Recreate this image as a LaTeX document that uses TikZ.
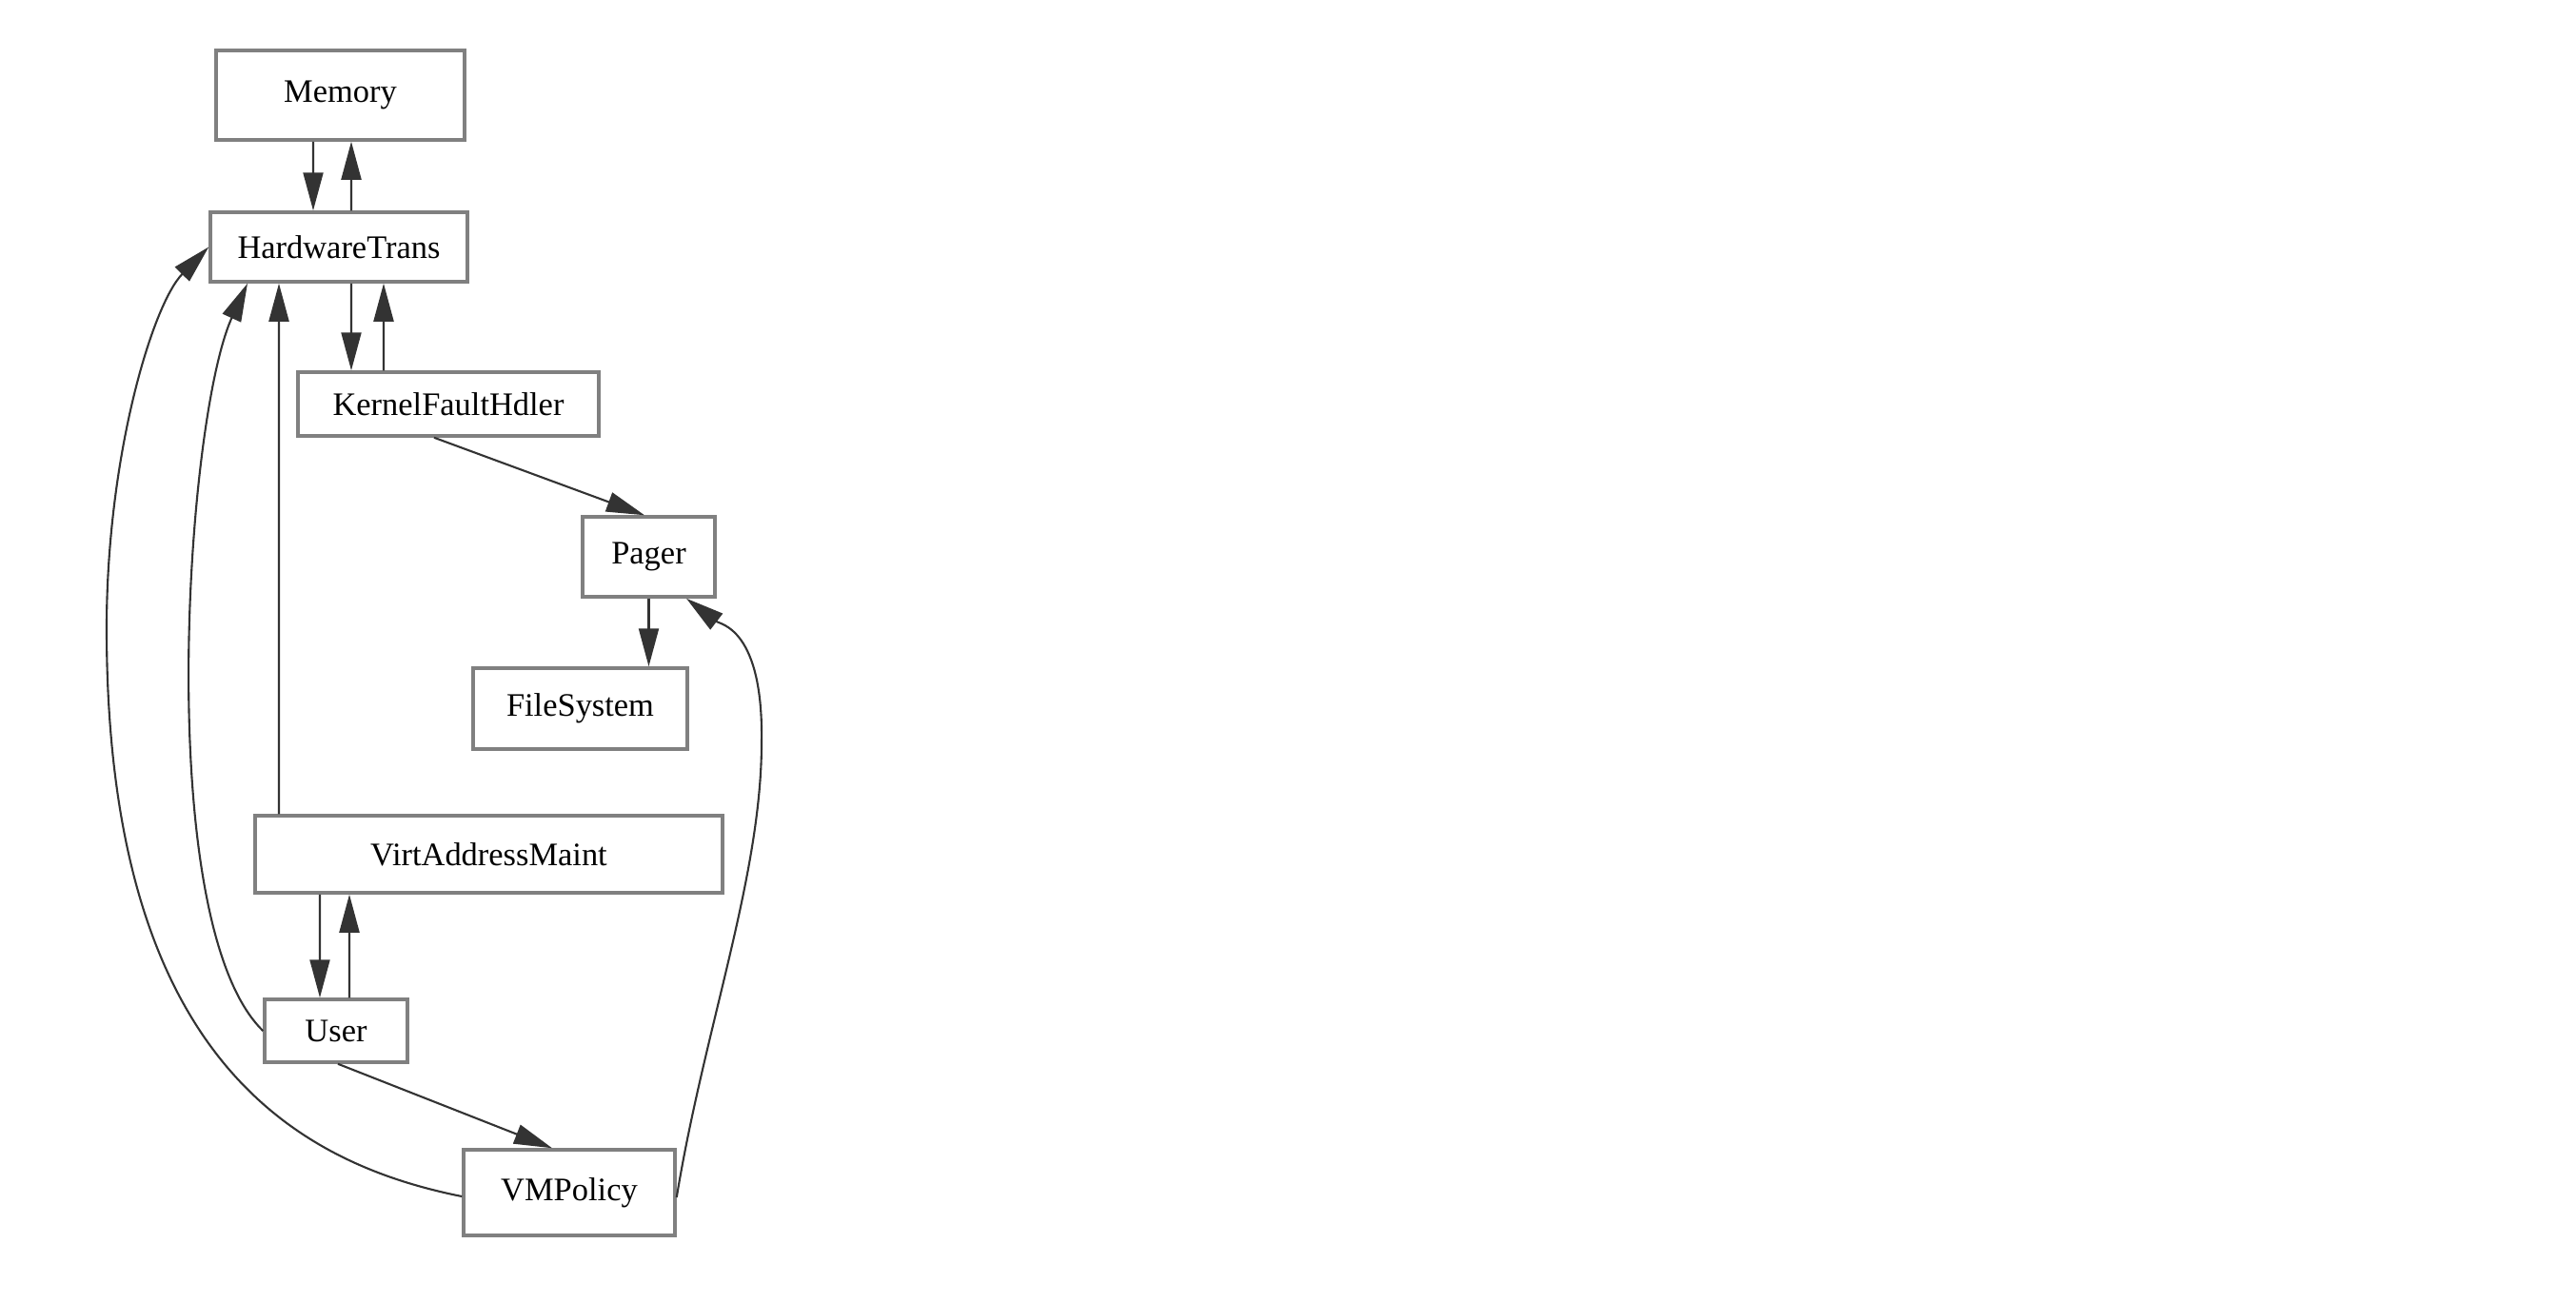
\documentclass[tikz,border=0pt]{standalone}
\usepackage{fontspec}
\setmainfont{Liberation Serif}
\usetikzlibrary{arrows.meta}

\begin{document}
\begin{tikzpicture}[
    box/.style={draw=black!50, line width=1pt, rectangle, inner sep=0pt,
                font=\fontsize{9.8}{12}\selectfont},
    edge/.style={draw=black!80, line width=0.6pt,
                 -{Triangle[length=4mm,width=2.1mm]}}
  ]
  % Canvas
  \useasboundingbox (0,0) rectangle (27.06,-13.68);

  % Modules
  \node[box, minimum width=2.61cm, minimum height=0.94cm] (memory) at (3.575,-1.00) {Memory};
  \node[box, minimum width=2.70cm, minimum height=0.73cm] (hwtrans) at (3.56,-2.595) {HardwareTrans};
  \node[box, minimum width=3.16cm, minimum height=0.67cm] (kfh) at (4.71,-4.245) {KernelFaultHdler};
  \node[box, minimum width=1.39cm, minimum height=0.84cm] (pager) at (6.815,-5.85) {Pager};
  \node[box, minimum width=2.25cm, minimum height=0.85cm] (filesys) at (6.095,-7.445) {FileSystem};
  \node[box, minimum width=4.91cm, minimum height=0.81cm] (vam) at (5.135,-8.975) {VirtAddressMaint};
  \node[box, minimum width=1.50cm, minimum height=0.66cm] (user) at (3.53,-10.83) {User};
  \node[box, minimum width=2.22cm, minimum height=0.90cm] (vmpolicy) at (5.98,-12.53) {VMPolicy};

  % Memory <-> HardwareTrans
  \draw[edge] ([xshift=-2.85mm]memory.south) -- ([xshift=-2.7mm]hwtrans.north);
  \draw[edge] ([xshift=1.3mm]hwtrans.north) -- ([xshift=1.15mm]memory.south);

  % HardwareTrans <-> KernelFaultHdler
  \draw[edge] ([xshift=1.3mm]hwtrans.south) -- ([xshift=-10.2mm]kfh.north);
  \draw[edge] ([xshift=-6.8mm]kfh.north) -- ([xshift=4.7mm]hwtrans.south);

  % Fault path down to the file system
  \draw[edge] ([xshift=-1.5mm]kfh.south) -- ([xshift=-0.45mm]pager.north);
  \draw[edge] (pager.south) -- (pager.south |- filesys.north);

  % VirtAddressMaint up to HardwareTrans
  \draw[edge] ([xshift=-22.05mm]vam.north) -- ([xshift=-6.3mm]hwtrans.south);

  % VirtAddressMaint <-> User
  \draw[edge] ([xshift=-17.75mm]vam.south) -- ([xshift=-1.7mm]user.north);
  \draw[edge] ([xshift=1.4mm]user.north) -- ([xshift=-14.65mm]vam.south);

  % User -> VMPolicy
  \draw[edge] ([xshift=0.2mm]user.south) -- ([xshift=-1.8mm]vmpolicy.north);

  % Long curved edges
  \draw[edge] (user.west) .. controls (1.6,-9.7) and (1.95,-4.4) .. ([xshift=-9.6mm]hwtrans.south);
  \draw[edge] ([yshift=-0.4mm]vmpolicy.west) .. controls (3.0,-12.2) and (1.12,-11.0) .. (1.12,-6.6)
      .. controls (1.12,-4.8) and (1.6,-3.2) .. (hwtrans.west);
  \draw[edge] ([yshift=-0.5mm]vmpolicy.east) .. controls (7.4,-10.8) and (8.0,-9.2) .. (8.0,-7.8)
      .. controls (8.02,-6.6) and (7.565,-6.56) .. ([xshift=3.95mm]pager.south);
\end{tikzpicture}
\end{document}
